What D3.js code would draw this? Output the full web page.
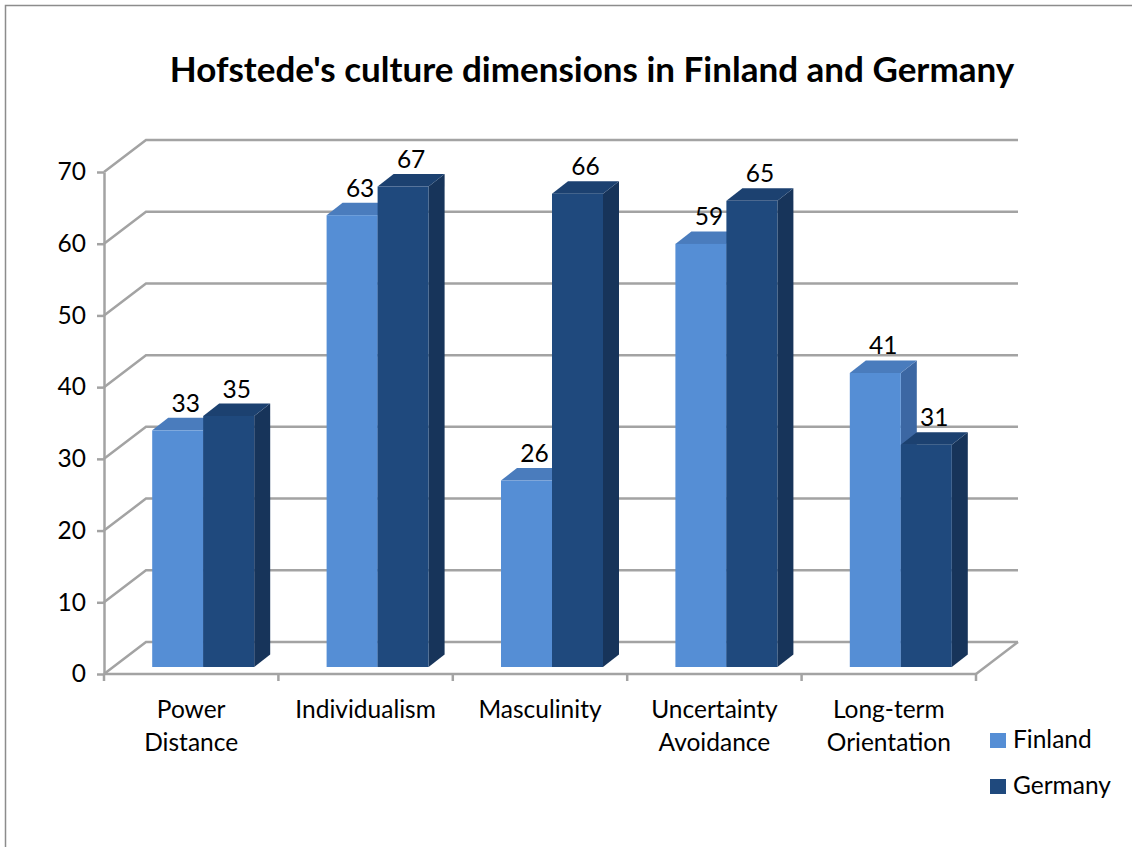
<!DOCTYPE html>
<head>
  <meta charset="utf-8">
  <script src="https://d3js.org/d3.v7.min.js"></script>
  <style>
    body { margin:0; background:#fff; }
    text { font-family: Lato, "Open Sans", sans-serif; fill:#000; }
    .grid { stroke:#a3a3a3; stroke-width:2.5; fill:none; }
  </style>
</head>

<body>
  <script>
  // ---------- data ----------
    var categories = ["Power Distance", "Individualism", "Masculinity", "Uncertainty Avoidance", "Long-term Orientation"];
    var series = ["Finland", "Germany"];
    var finland = [33, 63, 26, 59, 41];
    var germany = [35, 67, 66, 65, 31];
    var yTicks = [0, 10, 20, 30, 40, 50, 60, 70];

    var values = { Finland: finland, Germany: germany };
    var colors = {
      Finland: { front: "#558ed5", top: "#4a7cbd", side: "#3c67a3" },
      Germany: { front: "#1f497d", top: "#1c4170", side: "#17345a" }
    };
    var fs = 24.5;

  // ---------- svg ----------
    var W = 1132, H = 847;
    var svg = d3.select("body").append("svg")
      .attr("width", W)
      .attr("height", H);

    svg.append("rect")
      .attr("x", 5.5).attr("y", 5.5)
      .attr("width", W - 4).attr("height", H - 3)
      .attr("fill", "#fff")
      .attr("stroke", "#8c8c8c")
      .attr("stroke-width", 1.5);

    svg.append("text")
      .attr("x", 592).attr("y", 82)
      .attr("text-anchor", "middle")
      .attr("font-size", 35)
      .attr("font-weight", "bold")
      .text("Hofstede's culture dimensions in Finland and Germany");

  // ---------- scales ----------
    var x = d3.scaleBand().domain(categories).range([104, 976]);
    var y = d3.scaleLinear().domain([0, 70]).range([674, 172]);

    var wall = { dx: 42, dy: -32 };   // back wall offset
    var barOff = { dx: 12, dy: -7 };  // front plane of the bars
    var depth = { dx: 16, dy: -12.5 }; // bar depth

    var gap = x.bandwidth() - 102;
    var x1 = d3.scaleBand().domain(series).range([gap / 2, x.bandwidth() - gap / 2]);

  // ---------- walls & gridlines ----------
    var walls = svg.append("g");
    yTicks.forEach(function(t) {
      var yy = y(t);
      walls.append("path").attr("class", "grid")
        .attr("d", "M104," + yy + "L" + (104 + wall.dx) + "," + (yy + wall.dy) +
          "L" + (976 + wall.dx) + "," + (yy + wall.dy));
    });
    // floor
    walls.append("path").attr("class", "grid")
      .attr("d", "M976," + y(0) + "L" + (976 + wall.dx) + "," + (y(0) + wall.dy));
    walls.append("path").attr("class", "grid")
      .attr("d", "M104," + y(0) + "L976," + y(0));

  // ---------- y axis ----------
    var yAxis = svg.append("g")
      .attr("transform", "translate(104,0)")
      .call(d3.axisLeft(y).tickValues(yTicks).tickSize(7).tickSizeOuter(0).tickPadding(11));
    yAxis.select(".domain").attr("stroke", "#a3a3a3").attr("stroke-width", 2.5);
    yAxis.selectAll(".tick line").attr("stroke", "#a3a3a3").attr("stroke-width", 2.5);
    yAxis.selectAll(".tick text")
      .attr("font-size", fs)
      .attr("font-family", "Lato, sans-serif")
      .attr("fill", "#000");

  // ---------- x axis ticks & labels ----------
    var xTickPos = categories.map(function(c) { return x(c); }).concat([x.range()[1]]);
    svg.append("g").selectAll("line")
      .data(xTickPos)
      .join("line")
      .attr("x1", d => d).attr("x2", d => d)
      .attr("y1", y(0)).attr("y2", y(0) + 7)
      .attr("stroke", "#a3a3a3").attr("stroke-width", 2.5);

    var xLabels = svg.append("g").selectAll("text")
      .data(categories)
      .join("text")
      .attr("text-anchor", "middle")
      .attr("font-size", fs)
      .attr("y", 718);
    xLabels.each(function(c) {
      var words = c.split(" ");
      var t = d3.select(this);
      words.forEach(function(w, i) {
        t.append("tspan")
          .attr("x", x(c) + x.bandwidth() / 2)
          .attr("dy", i === 0 ? 0 : 33)
          .text(w);
      });
    });

  // ---------- bars ----------
    var bars = svg.append("g");
    categories.forEach(function(c, ci) {
      series.forEach(function(s) {
        var v = values[s][ci];
        var x0 = x(c) + x1(s) + barOff.dx;
        var w = x1.bandwidth();
        var yb = y(0) + barOff.dy;
        var yt = y(v) + barOff.dy;
        var col = colors[s];
        var g = bars.append("g");
        // side face
        g.append("path")
          .attr("fill", col.side)
          .attr("d", "M" + (x0 + w) + "," + yt + "L" + (x0 + w + depth.dx) + "," + (yt + depth.dy) +
            "L" + (x0 + w + depth.dx) + "," + (yb + depth.dy) + "L" + (x0 + w) + "," + yb + "Z");
        // top face
        g.append("path")
          .attr("fill", col.top)
          .attr("d", "M" + x0 + "," + yt + "L" + (x0 + depth.dx) + "," + (yt + depth.dy) +
            "L" + (x0 + w + depth.dx) + "," + (yt + depth.dy) + "L" + (x0 + w) + "," + yt + "Z");
        // front face
        g.append("rect")
          .attr("x", x0).attr("y", yt)
          .attr("width", w).attr("height", yb - yt)
          .attr("fill", col.front);
        // value label
        g.append("text")
          .attr("x", x0 + w / 2 + depth.dx / 2)
          .attr("y", yt + depth.dy - 6)
          .attr("text-anchor", "middle")
          .attr("font-size", fs)
          .text(v);
      });
    });

  // ---------- legend ----------
    var legend = svg.append("g").selectAll("g")
      .data(series)
      .join("g")
      .attr("transform", (d, i) => "translate(990," + (733 + i * 46) + ")");
    legend.append("rect")
      .attr("width", 16).attr("height", 15)
      .attr("fill", d => colors[d].front);
    legend.append("text")
      .attr("x", 23).attr("y", 15)
      .attr("font-size", fs)
      .text(d => d);
  </script>
</body>
